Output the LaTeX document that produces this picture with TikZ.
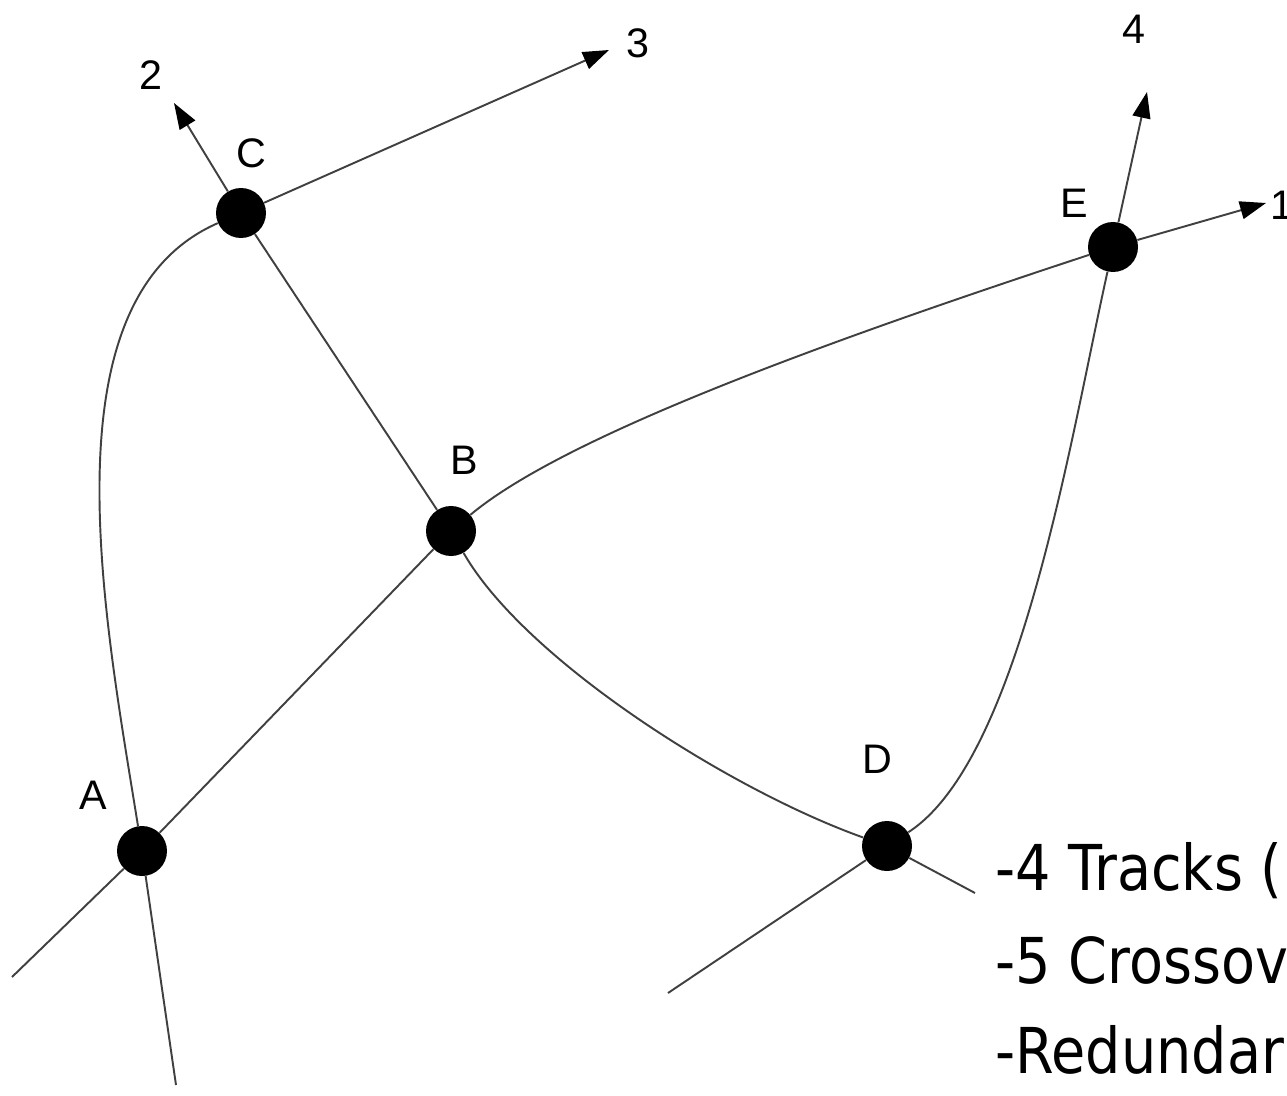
\documentclass[tikz,border=0pt]{standalone}
\usepackage{fontspec}
\setmainfont{Liberation Sans}
\newfontfamily\notefont[FakeStretch=0.88]{DejaVu Sans}
\usetikzlibrary{arrows.meta}
\begin{document}
\begin{tikzpicture}[x=0.02cm,y=-0.02cm,
  track/.style={line width=1.1pt, draw=black!75},
  junction/.style={circle, fill=black, minimum size=1cm, inner sep=0pt},
  lbl/.style={font=\fontsize{23.5}{28}\selectfont, inner sep=0pt},
  note/.style={font=\notefont\fontsize{36}{43}\selectfont, anchor=base west, inner sep=0pt},
  tip/.style={-{Triangle[length=0.52cm,width=0.36cm,black]}}]
\useasboundingbox (0,0) rectangle (1287,1095);
% free ends
\coordinate (endAl) at (12,977);
\coordinate (endAb) at (176,1085);
\coordinate (endDl) at (668,993);
\coordinate (endDr) at (975,893);
\coordinate (t1) at (1266,203);
\coordinate (t2) at (174,103);
\coordinate (t3) at (609,50);
\coordinate (t4) at (1147,92);
% junctions
\node[junction] (A) at (142,851) {};
\node[junction] (B) at (451,531) {};
\node[junction] (C) at (241,213) {};
\node[junction] (D) at (887,846) {};
\node[junction] (E) at (1113,247) {};
% tracks
\draw[track] (endAl) -- (A);
\draw[track] (A) -- (B);
\draw[track] (endAb) -- (A);
\draw[track] (A) .. controls (105,620) and (42,300) .. (C);
\draw[track, tip] (C) -- (t3);
\draw[track, tip] (C) -- (t2);
\draw[track] (C) -- (B);
\draw[track] (B) .. controls (560,440) and (800,350) .. (E);
\draw[track, tip] (E) -- (t1);
\draw[track, tip] (E) -- (t4);
\draw[track] (B) .. controls (525,660) and (730,790) .. (D);
\draw[track] (D) -- (endDr);
\draw[track] (endDl) -- (D);
\draw[track] (D) .. controls (1020,760) and (1070,440) .. (E);
% labels
\node[lbl] (l2) at (151,75) {2};
\node[lbl] (l3) at (638,43) {3};
\node[lbl] (l4) at (1134,29) {4};
\node[lbl] (l1) at (1282,205) {1};
\node[lbl] (lC) at (251,153) {C};
\node[lbl] (lE) at (1074,203) {E};
\node[lbl] (lB) at (464,460) {B};
\node[lbl] (lA) at (93,795) {A};
\node[lbl] (lD) at (877,759) {D};
% notes
\node[note] (n1) at (995,890) {-4 Tracks (};
\node[note] (n2) at (995,983) {-5 Crossov};
\node[note] (n3) at (995,1073) {-Redundar};
\end{tikzpicture}
\end{document}
